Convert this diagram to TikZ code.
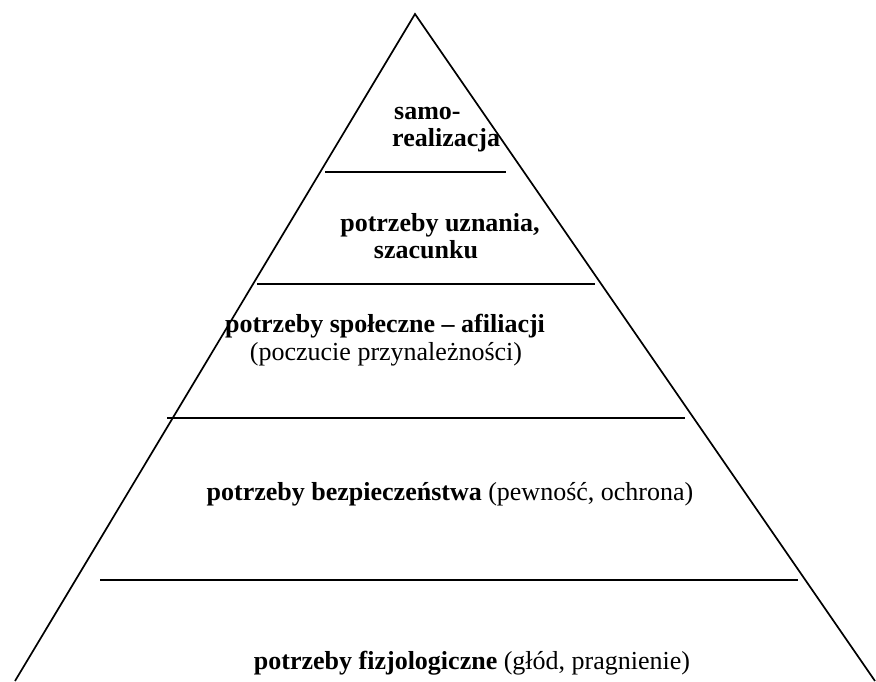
\documentclass[tikz,border=0pt]{standalone}
\usepackage{fontspec}
\setmainfont{Liberation Serif}
\begin{document}
\begin{tikzpicture}[x=1pt,y=-1pt,
  edge/.style={line width=1.7pt, line join=miter},
  lbl/.style={anchor=base, inner sep=0pt, font=\fontsize{26}{28}\selectfont}]
\useasboundingbox (0,0) rectangle (876,681);
\coordinate (apex) at (415,14);
\coordinate (bl) at (15,681);
\coordinate (br) at (875,681);
\draw[edge] (bl) -- (apex) -- (br);
\coordinate (l1a) at (325,172); \coordinate (l1b) at (506,172);
\coordinate (l2a) at (257,284); \coordinate (l2b) at (595,284);
\coordinate (l3a) at (167,418); \coordinate (l3b) at (685,418);
\coordinate (l4a) at (100,580); \coordinate (l4b) at (798,580);
\draw[edge] (l1a) -- (l1b);
\draw[edge] (l2a) -- (l2b);
\draw[edge] (l3a) -- (l3b);
\draw[edge] (l4a) -- (l4b);
\node[lbl, anchor=base west] (t1a) at (394,119) {\textbf{samo-}};
\node[lbl, anchor=base west] (t1b) at (392,146) {\textbf{realizacja}};
\node[lbl] (t2a) at (440,231) {\textbf{potrzeby uznania,}};
\node[lbl] (t2b) at (426,258) {\textbf{szacunku}};
\node[lbl] (t3a) at (385,332) {\textbf{potrzeby społeczne – afiliacji}};
\node[lbl] (t3b) at (386,360) {(poczucie przynależności)};
\node[lbl] (t4) at (450,500) {\textbf{potrzeby bezpieczeństwa} (pewność, ochrona)};
\node[lbl] (t5) at (472,669) {\textbf{potrzeby fizjologiczne} (głód, pragnienie)};
\end{tikzpicture}
\end{document}
